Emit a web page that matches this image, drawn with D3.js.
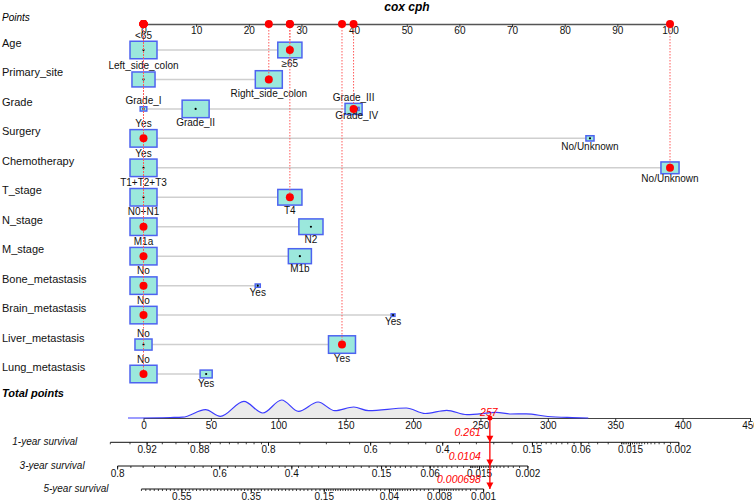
<!DOCTYPE html>
<html><head><meta charset="utf-8">
<script src="https://cdn.jsdelivr.net/npm/d3@7"></script>
<style>body{margin:0;background:#fff} svg{display:block;font-family:"Liberation Sans",Arial,sans-serif}</style>
</head><body><svg id="c" width="754" height="501"></svg>
<script>
// ---------- DATA ----------
const title = "cox cph";
const variables = ["Age","Primary_site","Grade","Surgery","Chemotherapy","T_stage","N_stage","M_stage","Bone_metastasis","Brain_metastasis","Liver_metastasis","Lung_metastasis"];
const levels = [["<65","≥65"],["Left_side_colon","Right_side_colon"],["Grade_I","Grade_II","Grade_III","Grade_IV"],["Yes","No/Unknown"],["Yes","No/Unknown"],["T1+T2+T3","T4"],["N0+N1","N2"],["M1a","M1b"],["No","Yes"],["No","Yes"],["No","Yes"],["No","Yes"]];
const levelPoints = [[0,27.8],[0,23.8],[0,9.9,39.9,40.5],[0,84.8],[0,100],[0,27.8],[0,31.8],[0,29.7],[0,21.7],[0,47.4],[0,37.7],[0,11.9]];
const levelShare = [[1,0.8],[0.73,1],[0.06,1,0.4,0.03],[1,0.09],[1,0.45],[1,0.8],[1,0.8],[1,0.73],[1,0.035],[1,0.02],[0.4,1],[1,0.2]];
const selectedLevel = [1,1,2,0,1,1,0,0,0,0,1,0];
const pointTicks = [0,10,20,30,40,50,60,70,80,90,100];
const totalTicks = [0,50,100,150,200,250,300,350,400,450];
const totalScore = 257;
const densityPts = [-11.5,20,29,46,57,74.5,88.5,102.5,115,129.5,142,156,167,195,209,225,240,262,272,284,300,318,330];
const densityVal = [0,0.5,0.8,8.3,1.6,16.6,5,18,6.6,16,7.3,11,7.3,10,4.5,7.6,3.3,5.6,4,4.2,1.5,0.4,0];
const survLabels = ["1-year survival","3-year survival","5-year survival"];
const survPred = [0.261,0.0104,0.000698];
const survPredText = ["0.261","0.0104","0.000698"];
const survMajor = [[0.92,0.88,0.8,0.6,0.4,0.15,0.06,0.015,0.002],[0.8,0.6,0.4,0.15,0.06,0.015,0.002],[0.55,0.35,0.15,0.04,0.008,0.001]];
const survRange = [[0.94,0.002],[0.8,0.002],[0.65,0.001]];
const survMinorSpec = [
  [[0.94,0.8,0.01],[0.8,0.15,0.05],[0.15,0.02,0.01],[0.02,0.002,0.001]],
  [[0.8,0.15,0.02],[0.15,0.06,0.01],[0.06,0.02,0.005],[0.02,0.002,0.001]],
  [[0.65,0.15,0.01],[0.15,0.04,0.005],[0.04,0.008,0.002],[0.008,0.001,0.0005]]
];
const lpScale = 91.5; // points per unit of log cumulative hazard

// ---------- SETUP ----------
const svg = d3.select("#c");
const xP = d3.scaleLinear().domain([0,100]).range([143.5,670]);
const xT = d3.scaleLinear().domain([0,450]).range([143.5,750]);
const yRow = d3.scalePoint().domain(variables).range([50,374]);
const yD = d3.scaleLinear().domain([0,20]).range([418,398]);
const RED = "#ff0000";
const axisY = 24;

svg.append("text").attr("x",407).attr("y",11).attr("text-anchor","middle")
  .style("font-weight","bold").style("font-style","italic").style("font-size","12px").text(title);

svg.append("text").attr("x",2).attr("y",21).style("font-style","italic").style("font-size","10px").text("Points");

// points axis
const gP = svg.append("g").attr("transform",`translate(0,${axisY})`);
gP.call(d3.axisBottom(xP).tickValues(d3.range(0,101,2)).tickSize(2.5).tickSizeOuter(0).tickFormat(""));
gP.call(d3.axisBottom(xP).tickValues(pointTicks).tickSize(3).tickSizeOuter(0).tickPadding(0));
gP.selectAll("path.domain").attr("stroke","#555").attr("stroke-width",1.5);
gP.selectAll(".tick line").attr("stroke","#333");
gP.selectAll("text").style("font-size","10px").attr("fill","#111").style("font-family","Liberation Sans, Arial, sans-serif");

// rows
const rowsG = svg.append("g");
const redLinesG = svg.append("g");
const dotsG = svg.append("g");
variables.forEach((v,i)=>{
  const y = yRow(v);
  rowsG.append("text").attr("x",2).attr("y",y-3).style("font-size","11px").attr("fill","#111").text(v);
  const pts = levelPoints[i];
  rowsG.append("line").attr("x1",xP(d3.min(pts))).attr("x2",xP(d3.max(pts))).attr("y1",y).attr("y2",y)
    .attr("stroke","#cfcfcf").attr("stroke-width",1.5);
  pts.forEach((p,j)=>{
    const s = Math.sqrt(levelShare[i][j]);
    const w = Math.max(3.5, 27*s), h = Math.max(2.5, 17.5*s);
    const cx = xP(p);
    rowsG.append("rect").attr("x",cx-w/2).attr("y",y-h/2).attr("width",w).attr("height",h)
      .attr("fill","#9be8dc").attr("stroke","#4d63f0").attr("stroke-width",1.5);
    rowsG.append("circle").attr("cx",cx).attr("cy",y).attr("r",1.1).attr("fill","#000");
    const above = j%2===0;
    rowsG.append("text").attr("x",cx).attr("y", above ? y-h/2-2.5 : y+h/2+8.8)
      .attr("text-anchor","middle").style("font-size","10px").attr("fill","#111").text(levels[i][j]);
  });
  const sp = pts[selectedLevel[i]];
  redLinesG.append("line").attr("x1",xP(sp)).attr("x2",xP(sp)).attr("y1",axisY).attr("y2",y)
    .attr("stroke","#ff5a5a").attr("stroke-width",1).attr("stroke-dasharray","1.5,1.5");
  dotsG.append("circle").attr("cx",xP(sp)).attr("cy",y).attr("r",4).attr("fill",RED);
  dotsG.append("circle").attr("cx",xP(sp)).attr("cy",axisY).attr("r",4).attr("fill",RED);
});

// total points
svg.append("text").attr("x",2).attr("y",397).style("font-weight","bold").style("font-style","italic")
  .style("font-size","11px").text("Total points");
const dens = densityPts.map((p,k)=>[p,densityVal[k]]);
svg.append("path").datum(dens).attr("fill","#ebebeb")
  .attr("d",d3.area().x(d=>xT(d[0])).y0(yD(0)).y1(d=>yD(d[1])).curve(d3.curveMonotoneX));
const gT = svg.append("g").attr("transform","translate(0,418)");
gT.call(d3.axisBottom(xT).tickValues(d3.range(0,451,10)).tickSize(2.5).tickSizeOuter(0).tickFormat(""));
gT.call(d3.axisBottom(xT).tickValues(totalTicks).tickSize(3).tickSizeOuter(0).tickPadding(1));
gT.selectAll("path.domain").attr("stroke","#444").attr("stroke-width",1.2);
gT.selectAll(".tick line").attr("stroke","#333");
gT.selectAll("text").style("font-size","10px").attr("fill","#111").style("font-family","Liberation Sans, Arial, sans-serif");
svg.append("path").datum(dens).attr("fill","none").attr("stroke","#3b3bff").attr("stroke-width",1.2)
  .attr("d",d3.line().x(d=>xT(d[0])).y(d=>yD(d[1])).curve(d3.curveMonotoneX));

// survival axes
const survY = [442.3,466,489];
function survToPts(S, Sref){ return totalScore + lpScale*(Math.log(-Math.log(S)) - Math.log(-Math.log(Sref))); }
survLabels.forEach((lab,i)=>{
  const y = survY[i];
  const fx = S => xT(survToPts(S, survPred[i]));
  const x0 = fx(survRange[i][0]), x1 = fx(survRange[i][1]);
  const g = svg.append("g");
  g.append("text").attr("x",x0-33).attr("y",y+3).attr("text-anchor","end")
    .style("font-style","italic").style("font-size","10px").attr("fill","#111").text(lab);
  g.append("line").attr("x1",x0).attr("x2",x1).attr("y1",y).attr("y2",y).attr("stroke","#111").attr("stroke-width",1);
  let minor = [];
  survMinorSpec[i].forEach(([a,b,st])=>{
    const n = Math.round((a-b)/st);
    for(let k=0;k<=n;k++) minor.push(+(a-k*st).toFixed(6));
  });
  minor.forEach(s=>{
    g.append("line").attr("x1",fx(s)).attr("x2",fx(s)).attr("y1",y).attr("y2",y+2).attr("stroke","#111").attr("stroke-width",0.8);
  });
  survMajor[i].forEach(s=>{
    g.append("line").attr("x1",fx(s)).attr("x2",fx(s)).attr("y1",y).attr("y2",y+3.5).attr("stroke","#111").attr("stroke-width",1);
    g.append("text").attr("x",fx(s)).attr("y",y+11).attr("text-anchor","middle").style("font-size","10px").attr("fill","#111").text(String(s));
  });
});

// red prediction line
const xr = xT(totalScore);
svg.append("line").attr("x1",xr).attr("x2",xr).attr("y1",418).attr("y2",survY[2]).attr("stroke",RED).attr("stroke-width",1.3);
svg.append("circle").attr("cx",xr).attr("cy",418).attr("r",2.5).attr("fill",RED);
svg.append("text").attr("x",xr-1).attr("y",415.5).attr("text-anchor","middle").style("font-style","italic")
  .style("font-size","10.5px").attr("fill",RED).text(String(totalScore));
survY.forEach((y,i)=>{
  svg.append("path").attr("d",`M${xr-3.5},${y-6.5}L${xr+3.5},${y-6.5}L${xr},${y}Z`).attr("fill",RED);
  svg.append("text").attr("x",xr-9).attr("y",y-6).attr("text-anchor","end").style("font-style","italic")
    .style("font-size","10.5px").attr("fill",RED).text(survPredText[i]);
});
</script></body></html>
